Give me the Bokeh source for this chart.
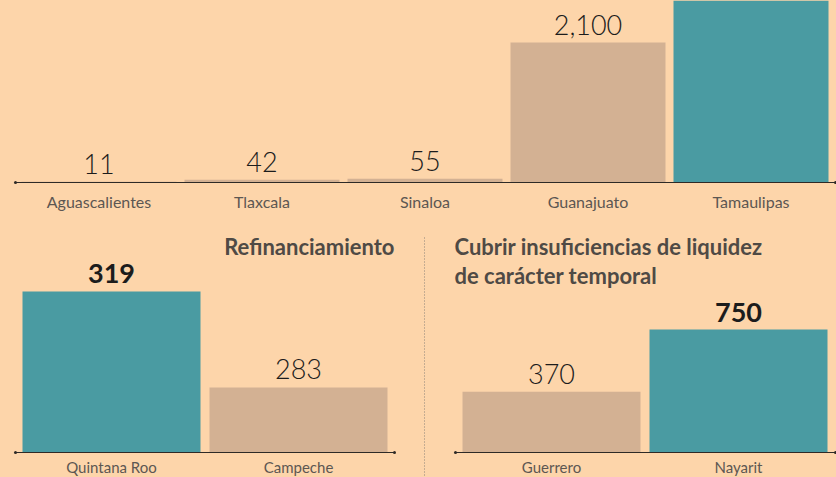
from bokeh.plotting import figure
from bokeh.layouts import column, row
from bokeh.models import ColumnDataSource, LabelSet, Label, Range1d
from bokeh.core.properties import value, field
from bokeh.embed import file_html
from bokeh.resources import INLINE

# ---------------- data ----------------
top_states = ["Aguascalientes", "Tlaxcala", "Sinaloa", "Guanajuato", "Tamaulipas"]
top_values = [11, 42, 55, 2100, 4000]
top_highlight = [False, False, False, False, True]

refin_title = "Refinanciamiento"
refin_states = ["Quintana Roo", "Campeche"]
refin_values = [319, 283]
refin_highlight = [True, False]

liq_title = ["Cubrir insuficiencias de liquidez", "de carácter temporal"]
liq_states = ["Guerrero", "Nayarit"]
liq_values = [370, 750]
liq_highlight = [False, True]

# ---------------- style ----------------
BG = "#FDD5AA"
TAN = "#D3B193"
TEAL = "#4A9BA2"
AXIS = "#2E2A26"
TICK = "#5C5752"
TITLE = "#4F4A45"
VAL = "#1C1C1C"
FONT = "Lato"
VFONT = "Lato Light"


class Panel:
    """A bar panel whose frame fills the whole figure; geometry given in pixels."""

    def __init__(self, names, vals, hl, fig_left, fig_top, width, height,
                 first_center, spacing, bar_px, axis_left, axis_right,
                 baseline, px_per_unit, base_value, name_gap=9, name_size="16px"):
        self.spacing = spacing
        self.first_center = first_center
        self.fig_left = fig_left
        self.fig_top = fig_top
        self.baseline = baseline
        self.ppu = px_per_unit
        self.base_value = base_value
        x0 = self.xv(fig_left)
        x1 = self.xv(fig_left + width)
        y0 = self.yv(fig_top + height)
        y1 = self.yv(fig_top)
        p = figure(width=width, height=height, output_backend="svg",
                   toolbar_location=None, x_range=Range1d(x0, x1),
                   y_range=Range1d(y0, y1), min_border=0)
        p.min_border_left = p.min_border_right = 0
        p.min_border_top = p.min_border_bottom = 0
        p.background_fill_color = BG
        p.border_fill_color = BG
        p.outline_line_color = None
        p.grid.visible = False
        p.xaxis.visible = False
        p.yaxis.visible = False
        p.styles = {"background-color": BG}
        self.p = p

        idx = list(range(len(names)))
        src = ColumnDataSource(dict(
            x=idx, top=vals,
            color=[TEAL if h else TAN for h in hl],
            label=[f"{v:,}" if v <= y1 else "" for v in vals],
            weight=["bold" if h else "normal" for h in hl],
            font=[FONT if h else VFONT for h in hl],
            name=names, base=[base_value] * len(names),
        ))
        p.vbar(x="x", top="top", bottom="base", width=bar_px / spacing,
               fill_color="color", line_color=None, source=src)
        # baseline rule with small end dots
        ax0, ax1 = self.xv(axis_left), self.xv(axis_right)
        p.segment(x0=ax0, y0=base_value, x1=ax1, y1=base_value,
                  line_color=AXIS, line_width=1.2)
        p.scatter(x=[ax0, ax1], y=[base_value, base_value], size=3,
                  fill_color=AXIS, line_color=None)
        # value labels
        p.add_layout(LabelSet(x="x", y="top", text="label", source=src, y_offset=8,
                              text_align="center", text_baseline="alphabetic",
                              text_font=field("font"), text_font_size="27px",
                              text_font_style=field("weight"), text_color=VAL))
        # category labels
        p.add_layout(LabelSet(x="x", y="base", text="name", source=src,
                              y_offset=-name_gap,
                              text_align="center", text_baseline="top",
                              text_font=value(FONT), text_font_size=name_size,
                              text_color=TICK))

    def xv(self, px):
        return (px - self.first_center) / self.spacing

    def yv(self, px):
        return self.base_value + (self.baseline - px) / self.ppu

    def title(self, lines, x_px, first_baseline_px, align, line_gap=29.5):
        for i, line in enumerate(lines):
            self.p.add_layout(Label(
                x=self.xv(x_px), y=self.yv(first_baseline_px + line_gap * i),
                text=line, text_align=align, text_baseline="alphabetic",
                text_font=FONT, text_font_style="bold", text_font_size="22px",
                text_color=TITLE))


# ---- top panel ----
top = Panel(top_states, top_values, top_highlight,
            fig_left=0, fig_top=0, width=836, height=215,
            first_center=98.5, spacing=163, bar_px=155,
            axis_left=15, axis_right=835, baseline=182,
            px_per_unit=140 / 2100, base_value=0)

# ---- bottom-left panel (truncated scale, as in the original) ----
bl = Panel(refin_states, refin_values, refin_highlight,
           fig_left=0, fig_top=215, width=416, height=262,
           first_center=111, spacing=187, bar_px=178,
           axis_left=15, axis_right=394, baseline=452,
           px_per_unit=2.667, base_value=258.6, name_gap=5, name_size="15px")
bl.title([refin_title], 394, 245.5, "right")

# ---- bottom-right panel ----
br = Panel(liq_states, liq_values, liq_highlight,
           fig_left=416, fig_top=215, width=420, height=262,
           first_center=551, spacing=187, bar_px=178,
           axis_left=455, axis_right=835, baseline=452,
           px_per_unit=0.164, base_value=0, name_gap=5, name_size="15px")
br.title(liq_title, 454, 245.5, "left", line_gap=29)
br.p.segment(x0=br.xv(424), y0=br.yv(237), x1=br.xv(424), y1=br.yv(477),
             line_color="#8C8279", line_width=1, line_dash="1 2")

layout = column(top.p, row(bl.p, br.p, styles={"background-color": BG}),
                styles={"background-color": BG})
html = file_html(layout, INLINE, "Deuda")
html = html.replace("<body>", '<body style="background-color:%s;">' % BG, 1)
open("out.html", "w").write(html)
